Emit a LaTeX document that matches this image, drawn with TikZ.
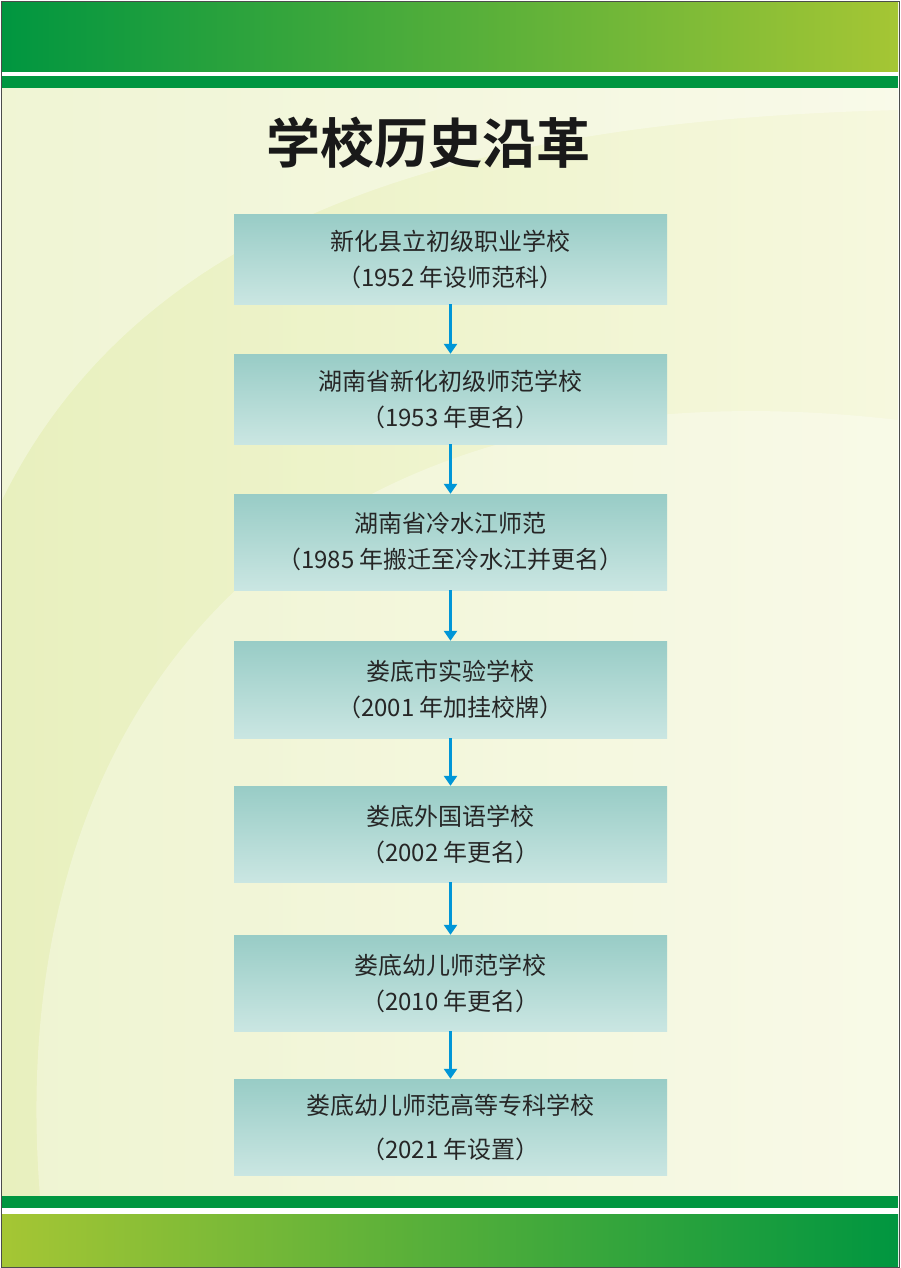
\documentclass[tikz,border=0pt]{standalone}
\usepackage{fontspec}
\setmainfont{Liberation Sans}
\newfontfamily\cjk{Noto Sans CJK SC}
\newfontfamily\cjkb{Noto Sans CJK SC Bold}
\usetikzlibrary{arrows.meta}
\definecolor{gA}{RGB}{0,150,64}
\definecolor{gB}{RGB}{165,198,52}
\definecolor{bgA}{RGB}{232,240,190}
\definecolor{bgB}{RGB}{246,248,222}
\definecolor{bxA}{RGB}{152,204,198}
\definecolor{bxB}{RGB}{202,230,226}
\definecolor{arr}{RGB}{0,150,215}
\tikzset{stagebox/.style={minimum width=433pt,inner sep=0pt,align=center,font=\cjk\fontsize{24}{36}\selectfont,text=black!85,top color=bxA,bottom color=bxB,draw=none},
 flow/.style={draw=arr,line width=2.5pt,-{Triangle[length=10pt,width=13pt]}}}
\begin{document}
\begin{tikzpicture}[x=1pt,y=-1pt]
\useasboundingbox (0,0) rectangle (900,1268);
\fill[white] (0,0) rectangle (900,1268);
\shade[left color=bgA,right color=bgB] (2,88) rectangle (898,1196);
\fill[white,opacity=0.35] (2,500) .. controls (150,200) and (500,120) .. (898,110) -- (898,88) -- (2,88) -- cycle;
\fill[white,opacity=0.3] (40,1196) .. controls (0,700) and (300,350) .. (898,420) -- (898,1196) -- cycle;
\shade[left color=gA,right color=gB] (2,2) rectangle (898,72);
\fill[gA] (2,76) rectangle (898,88);
\fill[gA] (2,1196) rectangle (898,1208);
\shade[left color=gB,right color=gA] (2,1214) rectangle (898,1266);
\draw[black!70,line width=0.8pt] (1,1) rectangle (899,1267);
\node[font=\cjkb\fontsize{54}{58}\selectfont,text=black!90] (title) at (428,143) {学校历史沿革};
\node[stagebox,minimum height=90pt] (b1) at (450.5,259) {新化县立初级职业学校\\（1952 年设师范科）};
\node[stagebox,minimum height=90pt] (b2) at (450.5,399) {湖南省新化初级师范学校\\（1953 年更名）};
\node[stagebox,minimum height=96pt] (b3) at (450.5,542) {湖南省冷水江师范\\（1985 年搬迁至冷水江并更名）};
\node[stagebox,minimum height=97pt] (b4) at (450.5,689.5) {娄底市实验学校\\（2001 年加挂校牌）};
\node[stagebox,minimum height=96pt] (b5) at (450.5,834) {娄底外国语学校\\（2002 年更名）};
\node[stagebox,minimum height=96pt] (b6) at (450.5,983) {娄底幼儿师范学校\\（2010 年更名）};
\node[stagebox,minimum height=96pt,font=\cjk\fontsize{24}{44}\selectfont] (b7) at (450.5,1127) {娄底幼儿师范高等专科学校\\（2021 年设置）};
\foreach \a/\b in {b1/b2,b2/b3,b3/b4,b4/b5,b5/b6,b6/b7}
  \draw[flow] (\a.south) -- (\b.north);
\end{tikzpicture}
\end{document}
